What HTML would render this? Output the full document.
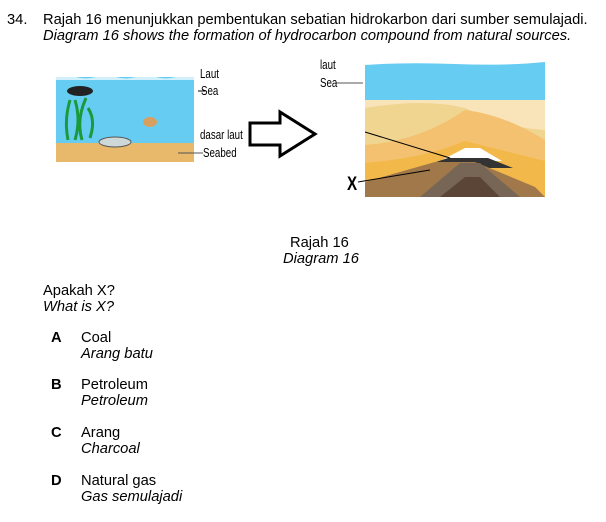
<!DOCTYPE html>
<html><head><meta charset="utf-8"><style>
body{margin:0;width:606px;height:522px;background:#fff;position:relative;overflow:hidden;font-family:"Liberation Sans",Arial,sans-serif;color:#000}
.t{position:absolute;font-size:14.7px;line-height:16px;white-space:nowrap}
i{font-style:italic}
.n{font-family:"Liberation Sans Narrow","Liberation Sans",sans-serif;font-size:13px;position:absolute;white-space:nowrap;transform:scaleX(.75);transform-origin:left}
</style></head><body>
<div class="t" style="left:7px;top:12px">34.</div>
<div class="t" style="left:43px;top:12px">Rajah 16 menunjukkan pembentukan sebatian hidrokarbon dari sumber semulajadi.</div>
<div class="t" style="left:43px;top:28px"><i>Diagram 16 shows the formation of hydrocarbon compound from natural sources.</i></div>

<svg style="position:absolute;left:0;top:0" width="606" height="230">
 <g>
  <rect x="56" y="77" width="138" height="66" fill="#66ccf2"/>
  <path d="M56 77 q10 -3 20 0 t20 0 t20 0 t20 0 t20 0 t20 0 t18 0 v3 h-138z" fill="#fff" opacity=".7"/>
  <rect x="56" y="143" width="138" height="19" fill="#e8b96a"/>
  <ellipse cx="80" cy="91" rx="13" ry="5" fill="#222"/>
  <ellipse cx="115" cy="142" rx="16" ry="5" fill="#cfd8d8" stroke="#555" stroke-width="1"/>
  <ellipse cx="150" cy="122" rx="7" ry="5" fill="#d8a060"/>
  <path d="M68 140 q-4 -20 2 -40 M75 140 q6 -20 0 -40 M82 140 q-6 -20 4 -42 M90 138 q6 -18 -2 -30" stroke="#1a9a3a" stroke-width="3" fill="none"/>
 </g>
 <line x1="198" y1="91" x2="205" y2="91" stroke="#000"/>
 <line x1="178" y1="153" x2="203" y2="153" stroke="#555"/>
 <path d="M250 123 h30 v-11 l35 22 l-35 22 v-11 h-30z" fill="#fff" stroke="#000" stroke-width="3"/>
 <g>
  <rect x="365" y="65" width="180" height="132" fill="#f0d590"/>
  <path d="M365 65 q40 -3 90 -1 t90 -2 v38 h-180z" fill="#66ccf2"/>
  <path d="M365 100 h180 v30 q-40 -2 -80 -22 q-40 -10 -100 0z" fill="#f8e4b8"/>
  <path d="M365 145 q55 -4 100 -35 q40 5 80 30 v57 h-180z" fill="#f3c170"/>
  <path d="M365 163 q60 -5 100 -22 q40 10 80 20 v36 h-180z" fill="#f2b84a"/>
  <path d="M440 161 l25 -13 l15 0 l22 13z" fill="#fff"/>
  <path d="M418 168 l30 -10 l40 0 l25 10z" fill="#333"/>
  <path d="M365 197 l0 -15 l70 -20 l40 0 l60 25 l10 10z" fill="#a0784a"/>
  <path d="M420 197 l40 -34 l20 0 l40 34z" fill="#776655"/>
  <path d="M440 197 l25 -20 l15 0 l20 20z" fill="#5a4536"/>
 </g>
 <line x1="365" y1="132" x2="450" y2="158" stroke="#000"/>
 <line x1="358" y1="182" x2="430" y2="170" stroke="#000"/>
 <line x1="336" y1="83" x2="363" y2="83" stroke="#555"/>
</svg>
<div style="position:absolute;left:347px;top:174px;font-weight:bold;font-size:19px;transform:scaleX(.8);transform-origin:left">X</div>
<div class="n" style="left:200px;top:66px">Laut</div>
<div class="n" style="left:201px;top:83px">Sea</div>
<div class="n" style="left:200px;top:127px">dasar laut</div>
<div class="n" style="left:203px;top:145px">Seabed</div>
<div class="n" style="left:320px;top:57px">laut</div>
<div class="n" style="left:320px;top:75px">Sea</div>

<div class="t" style="left:290px;top:235px">Rajah 16</div>
<div class="t" style="left:283px;top:251px"><i>Diagram 16</i></div>

<div class="t" style="left:43px;top:283px">Apakah X?</div>
<div class="t" style="left:43px;top:299px"><i>What is X?</i></div>

<div>
<div class="t" style="left:51px;top:330px;font-weight:bold">A</div>
<div class="t" style="left:81px;top:330px">Coal</div>
<div class="t" style="left:81px;top:346px"><i>Arang batu</i></div></div>
<div>
<div class="t" style="left:51px;top:377px;font-weight:bold">B</div>
<div class="t" style="left:81px;top:377px">Petroleum</div>
<div class="t" style="left:81px;top:393px"><i>Petroleum</i></div></div>
<div>
<div class="t" style="left:51px;top:425px;font-weight:bold">C</div>
<div class="t" style="left:81px;top:425px">Arang</div>
<div class="t" style="left:81px;top:441px"><i>Charcoal</i></div></div>
<div>
<div class="t" style="left:51px;top:473px;font-weight:bold">D</div>
<div class="t" style="left:81px;top:473px">Natural gas</div>
<div class="t" style="left:81px;top:489px"><i>Gas semulajadi</i></div></div>
</body></html>
